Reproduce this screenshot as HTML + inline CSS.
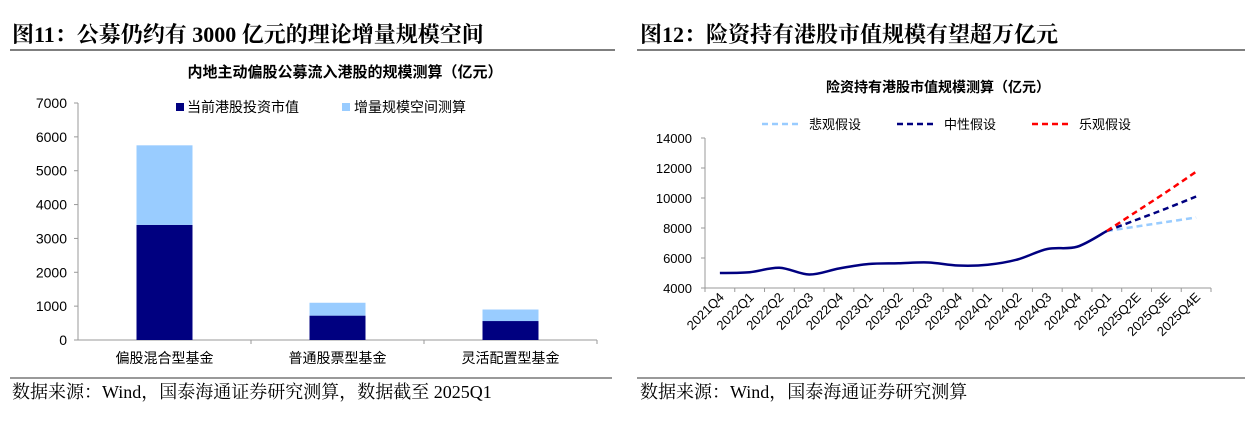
<!DOCTYPE html>
<html><head><meta charset="utf-8"><style>
body{margin:0;background:#fff;}
svg text{font-family:"Liberation Sans","Noto Sans CJK SC",sans-serif;}
.serif{font-family:"Liberation Serif","Noto Serif CJK SC",serif !important;}
</style></head><body>
<svg id="s" width="1254" height="420" xmlns="http://www.w3.org/2000/svg">
<text class="serif" x="12" y="42" font-size="22" font-weight="bold" fill="#000">图11：公募仍约有 3000 亿元的理论增量规模空间</text>
<text class="serif" x="640" y="42" font-size="22" font-weight="bold" fill="#000">图12：险资持有港股市值规模有望超万亿元</text>
<line x1="10" y1="50" x2="615" y2="50" stroke="#555" stroke-width="1.5"/>
<line x1="637" y1="50" x2="1245" y2="50" stroke="#555" stroke-width="1.5"/>
<line x1="10" y1="378" x2="612" y2="378" stroke="#333" stroke-width="1"/>
<line x1="637" y1="378" x2="1245" y2="378" stroke="#333" stroke-width="1"/>
<text class="serif" x="12" y="398" font-size="18">数据来源：Wind，国泰海通证券研究测算，数据截至 2025Q1</text>
<text class="serif" x="640" y="398" font-size="18">数据来源：Wind，国泰海通证券研究测算</text>
<text x="345" y="77" font-size="15" font-weight="bold" text-anchor="middle">内地主动偏股公募流入港股的规模测算（亿元）</text>
<text x="938" y="92" font-size="14" font-weight="bold" text-anchor="middle">险资持有港股市值规模测算（亿元）</text>
<g id="left"></g><g id="right"></g>
</svg>
<script>
const barCats=["偏股混合型基金","普通股票型基金","灵活配置型基金"];
const barCurrent=[3400,720,560];
const barIncrement=[2350,380,340];
const barTicks=[0,1000,2000,3000,4000,5000,6000,7000];

const lineCats=["2021Q4","2022Q1","2022Q2","2022Q3","2022Q4","2023Q1","2023Q2","2023Q3","2023Q4","2024Q1","2024Q2","2024Q3","2024Q4","2025Q1","2025Q2E","2025Q3E","2025Q4E"];
const actual=[5000,5050,5350,4900,5300,5600,5650,5700,5500,5550,5900,6600,6750,7800];
const pessimistic=[7800,8100,8400,8700];
const neutral=[7800,8550,9300,10100];
const optimistic=[7800,9100,10400,11750];
const lineTicks=[4000,6000,8000,10000,12000,14000];

const NS="http://www.w3.org/2000/svg";
function mk(p,t,a,txt){const e=document.createElementNS(NS,t);for(const k in a)e.setAttribute(k,a[k]);if(txt!==undefined)e.textContent=txt;p.appendChild(e);return e;}

const L=document.getElementById('left');
const lx0=78,lx1=597,ly0=340,ly1=103;
const ly=v=>ly0-(v-0)/(7000)*(ly0-ly1);
let e=mk(L,'line',{x1:lx0,y1:ly1,x2:lx0,y2:ly0,stroke:'#999'});

e=mk(L,'line',{x1:lx0,y1:ly0,x2:lx1,y2:ly0,stroke:'#999'});

barTicks.forEach(t=>{
 mk(L,'line',{x1:lx0-4,y1:ly(t),x2:lx0,y2:ly(t),stroke:'#999'});
 e=mk(L,'text',{x:67,y:ly(t)+5,'font-size':14,'text-anchor':'end'},t);
 
});
const bw=(lx1-lx0)/barCats.length;
barCats.forEach((c,i)=>{
 mk(L,'line',{x1:lx0+bw*(i+1),y1:ly0,x2:lx0+bw*(i+1),y2:ly0+4,stroke:'#999'});
 const cx=lx0+bw*(i+0.5),w=56;
 e=mk(L,'rect',{x:cx-w/2,y:ly(barCurrent[i]),width:w,height:ly0-ly(barCurrent[i]),fill:'#000080'});
 
 const top=barCurrent[i]+barIncrement[i];
 e=mk(L,'rect',{x:cx-w/2,y:ly(top),width:w,height:ly(barCurrent[i])-ly(top),fill:'#99ccff'});
 
 e=mk(L,'text',{x:cx,y:363,'font-size':14,'text-anchor':'middle'},c);
 
});
e=mk(L,'rect',{x:176,y:103,width:8,height:8,fill:'#000080'});

e=mk(L,'text',{x:187,y:112,'font-size':14},'当前港股投资市值');

e=mk(L,'rect',{x:342,y:103,width:8,height:8,fill:'#99ccff'});

e=mk(L,'text',{x:354,y:112,'font-size':14},'增量规模空间测算');


const R=document.getElementById('right');
const rx0=705,rx1=1211,ry0=288,ry1=138;
const step=(rx1-rx0)/lineCats.length;
const rx=i=>rx0+step*(i+0.5);
const ry=v=>ry0-(v-4000)/10000*(ry0-ry1);
e=mk(R,'line',{x1:rx0,y1:ry1,x2:rx0,y2:ry0,stroke:'#999'});

e=mk(R,'line',{x1:rx0,y1:ry0,x2:rx1,y2:ry0,stroke:'#999'});

lineTicks.forEach(t=>{
 mk(R,'line',{x1:rx0-4,y1:ry(t),x2:rx0,y2:ry(t),stroke:'#999'});
 e=mk(R,'text',{x:692,y:ry(t)+5,'font-size':13,'text-anchor':'end'},t);
 
});
lineCats.forEach((c,i)=>{
 mk(R,'line',{x1:rx0+step*i,y1:ry0,x2:rx0+step*i,y2:ry0+4,stroke:'#999'});
 const x=rx(i)+5,y=ry0+10;
 e=mk(R,'text',{x:x,y:y,'font-size':13,'text-anchor':'end',transform:`rotate(-45 ${x} ${y})`},c);
 
});
mk(R,'line',{x1:rx1,y1:ry0,x2:rx1,y2:ry0+4,stroke:'#999'});
function smooth(pts){let d=`M${pts[0][0]},${pts[0][1]}`;for(let i=0;i<pts.length-1;i++){const p0=pts[i-1]||pts[i],p1=pts[i],p2=pts[i+1],p3=pts[i+2]||p2;d+=` C${p1[0]+(p2[0]-p0[0])/6},${p1[1]+(p2[1]-p0[1])/6} ${p2[0]-(p3[0]-p1[0])/6},${p2[1]-(p3[1]-p1[1])/6} ${p2[0]},${p2[1]}`;}return d;}
const off=actual.length-1;
function proj(arr,col,name){e=mk(R,'path',{d:smooth(arr.map((v,i)=>[rx(off+i),ry(v)])),fill:'none',stroke:col,'stroke-width':2.5,'stroke-dasharray':'6,4'});
 }
proj(pessimistic,'#99ccff','line-pessimistic');
proj(neutral,'#000080','line-neutral');
proj(optimistic,'#ff0000','line-optimistic');
e=mk(R,'path',{d:smooth(actual.map((v,i)=>[rx(i),ry(v)])),fill:'none',stroke:'#000080','stroke-width':2.5});

const leg=[['#99ccff','悲观假设',762],['#000080','中性假设',897],['#ff0000','乐观假设',1032]];
leg.forEach((l,i)=>{
 e=mk(R,'line',{x1:l[2],y1:124,x2:l[2]+38,y2:124,stroke:l[0],'stroke-width':2.5,'stroke-dasharray':'6,4'});
 
 e=mk(R,'text',{x:l[2]+47,y:129,'font-size':13},l[1]);
 
});
</script>
</body></html>
